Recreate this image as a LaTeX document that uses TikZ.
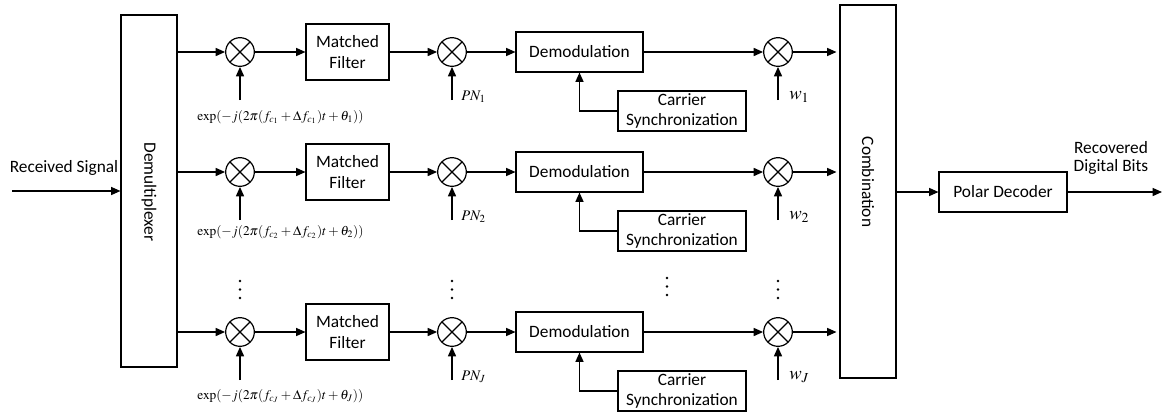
\documentclass[tikz,border=0pt]{standalone}
\usepackage{mathptmx}
\usepackage[no-math]{fontspec}
\setmainfont{Carlito}
\usetikzlibrary{arrows.meta}
\tikzset{
  blk/.style={draw, line width=0.8pt, align=center, inner sep=0pt, font=\fontsize{13}{15.5}\selectfont},
  mult/.style={circle, draw, line width=0.9pt, minimum size=21.5pt, inner sep=0pt,
    path picture={\draw[line width=0.9pt] (path picture bounding box.north west) -- (path picture bounding box.south east)
      (path picture bounding box.north east) -- (path picture bounding box.south west);}},
  arr/.style={line width=1pt, -{Triangle[length=7pt,width=6pt]}},
  lnk/.style={line width=1pt},
  mlab/.style={inner sep=0pt, anchor=west, font=\fontsize{10}{12}\selectfont},
  txt/.style={inner sep=0pt, align=center, font=\fontsize{13}{15.5}\selectfont},
  dot/.style={fill=black}
}
\begin{document}
\begin{tikzpicture}[x=0.75pt, y=-0.75pt]
\useasboundingbox (0,0) rectangle (1164,415);
% big boxes
\node[blk, minimum width=42pt, minimum height=264pt] (demux) at (149,191) {};
\node[txt, rotate=-90] (demuxt) at (149,192) {Demultiplexer};
\node[blk, minimum width=42pt, minimum height=279.75pt] (comb) at (868,191.5) {};
\node[txt, rotate=-90] (combt) at (868,182) {Combination};
\node[blk, minimum width=96pt, minimum height=30pt] (polar) at (1003,192) {Polar Decoder};
% input
\coordinate (in) at (12,191);
\node[txt] (rs) at (64,168) {Received Signal};
\draw[arr] (in) -- (demux.west |- in);
% output
\coordinate (out) at (1162,192);
\node[txt] (rdb) at (1111,158) {Recovered\\[-1.5pt]Digital Bits};
\draw[arr] (comb.east |- polar.west) -- (polar.west);
\draw[arr] (polar.east) -- (out);
% rows
\foreach \i/\y/\s/\ey in {1/52/1/117, 2/172/2/232, 3/332/J/396}{
  \node[mult] (ma\i) at (240,\y) {};
  \node[blk, minimum width=62.25pt, minimum height=42pt] (mf\i) at (347.5,\y) {Matched\\Filter};
  \node[mult] (mb\i) at (452,\y) {};
  \node[blk, minimum width=95.25pt, minimum height=30pt] (dm\i) at (579.5,\y) {Demodulation};
  \node[blk, minimum width=96pt, minimum height=30pt] (cs\i) at (682,\y+59) {Carrier\\Synchronization};
  \node[mult] (mc\i) at (778,\y) {};
  \draw[arr] (demux.east |- ma\i.west) -- (ma\i.west);
  \draw[arr] (ma\i.east) -- (mf\i.west |- ma\i.east);
  \draw[arr] (mf\i.east |- mb\i.west) -- (mb\i.west);
  \draw[arr] (mb\i.east) -- (dm\i.west |- mb\i.east);
  \draw[arr] (dm\i.east |- mc\i.west) -- (mc\i.west);
  \draw[arr] (mc\i.east) -- ([xshift=-2.25pt]comb.west |- mc\i.east);
  \draw[arr] (cs\i.west) -| (dm\i.south);
  \coordinate (ea\i) at (240,\y+48);
  \coordinate (eb\i) at (452,\y+48);
  \coordinate (ec\i) at (778,\y+48);
  \draw[arr] (ea\i) -- (ma\i.south);
  \draw[arr] (eb\i) -- (mb\i.south);
  \draw[arr] (ec\i) -- (mc\i.south);
  \node[mlab] (la\i) at (197,\ey) {$\exp(-j(2\pi(f_{c_{\s}}+\Delta f_{c_{\s}})t+\theta_{\s}))$};
  \node[mlab, font=\fontsize{11}{13}\selectfont] (lb\i) at (461,\y+45) {$PN_{\s}$};
  \node[mlab, font=\fontsize{14}{16}\selectfont] (lc\i) at (789,\y+45) {$w_{\s}$};
}
% vertical dots
\foreach \x/\yy in {240/281, 452/281, 778/281, 667/278}{
  \fill[dot] (\x,\yy) circle (1.1pt);
  \fill[dot] (\x,\yy+8.5) circle (1.1pt);
  \fill[dot] (\x,\yy+17) circle (1.1pt);
}
\end{tikzpicture}
\end{document}
